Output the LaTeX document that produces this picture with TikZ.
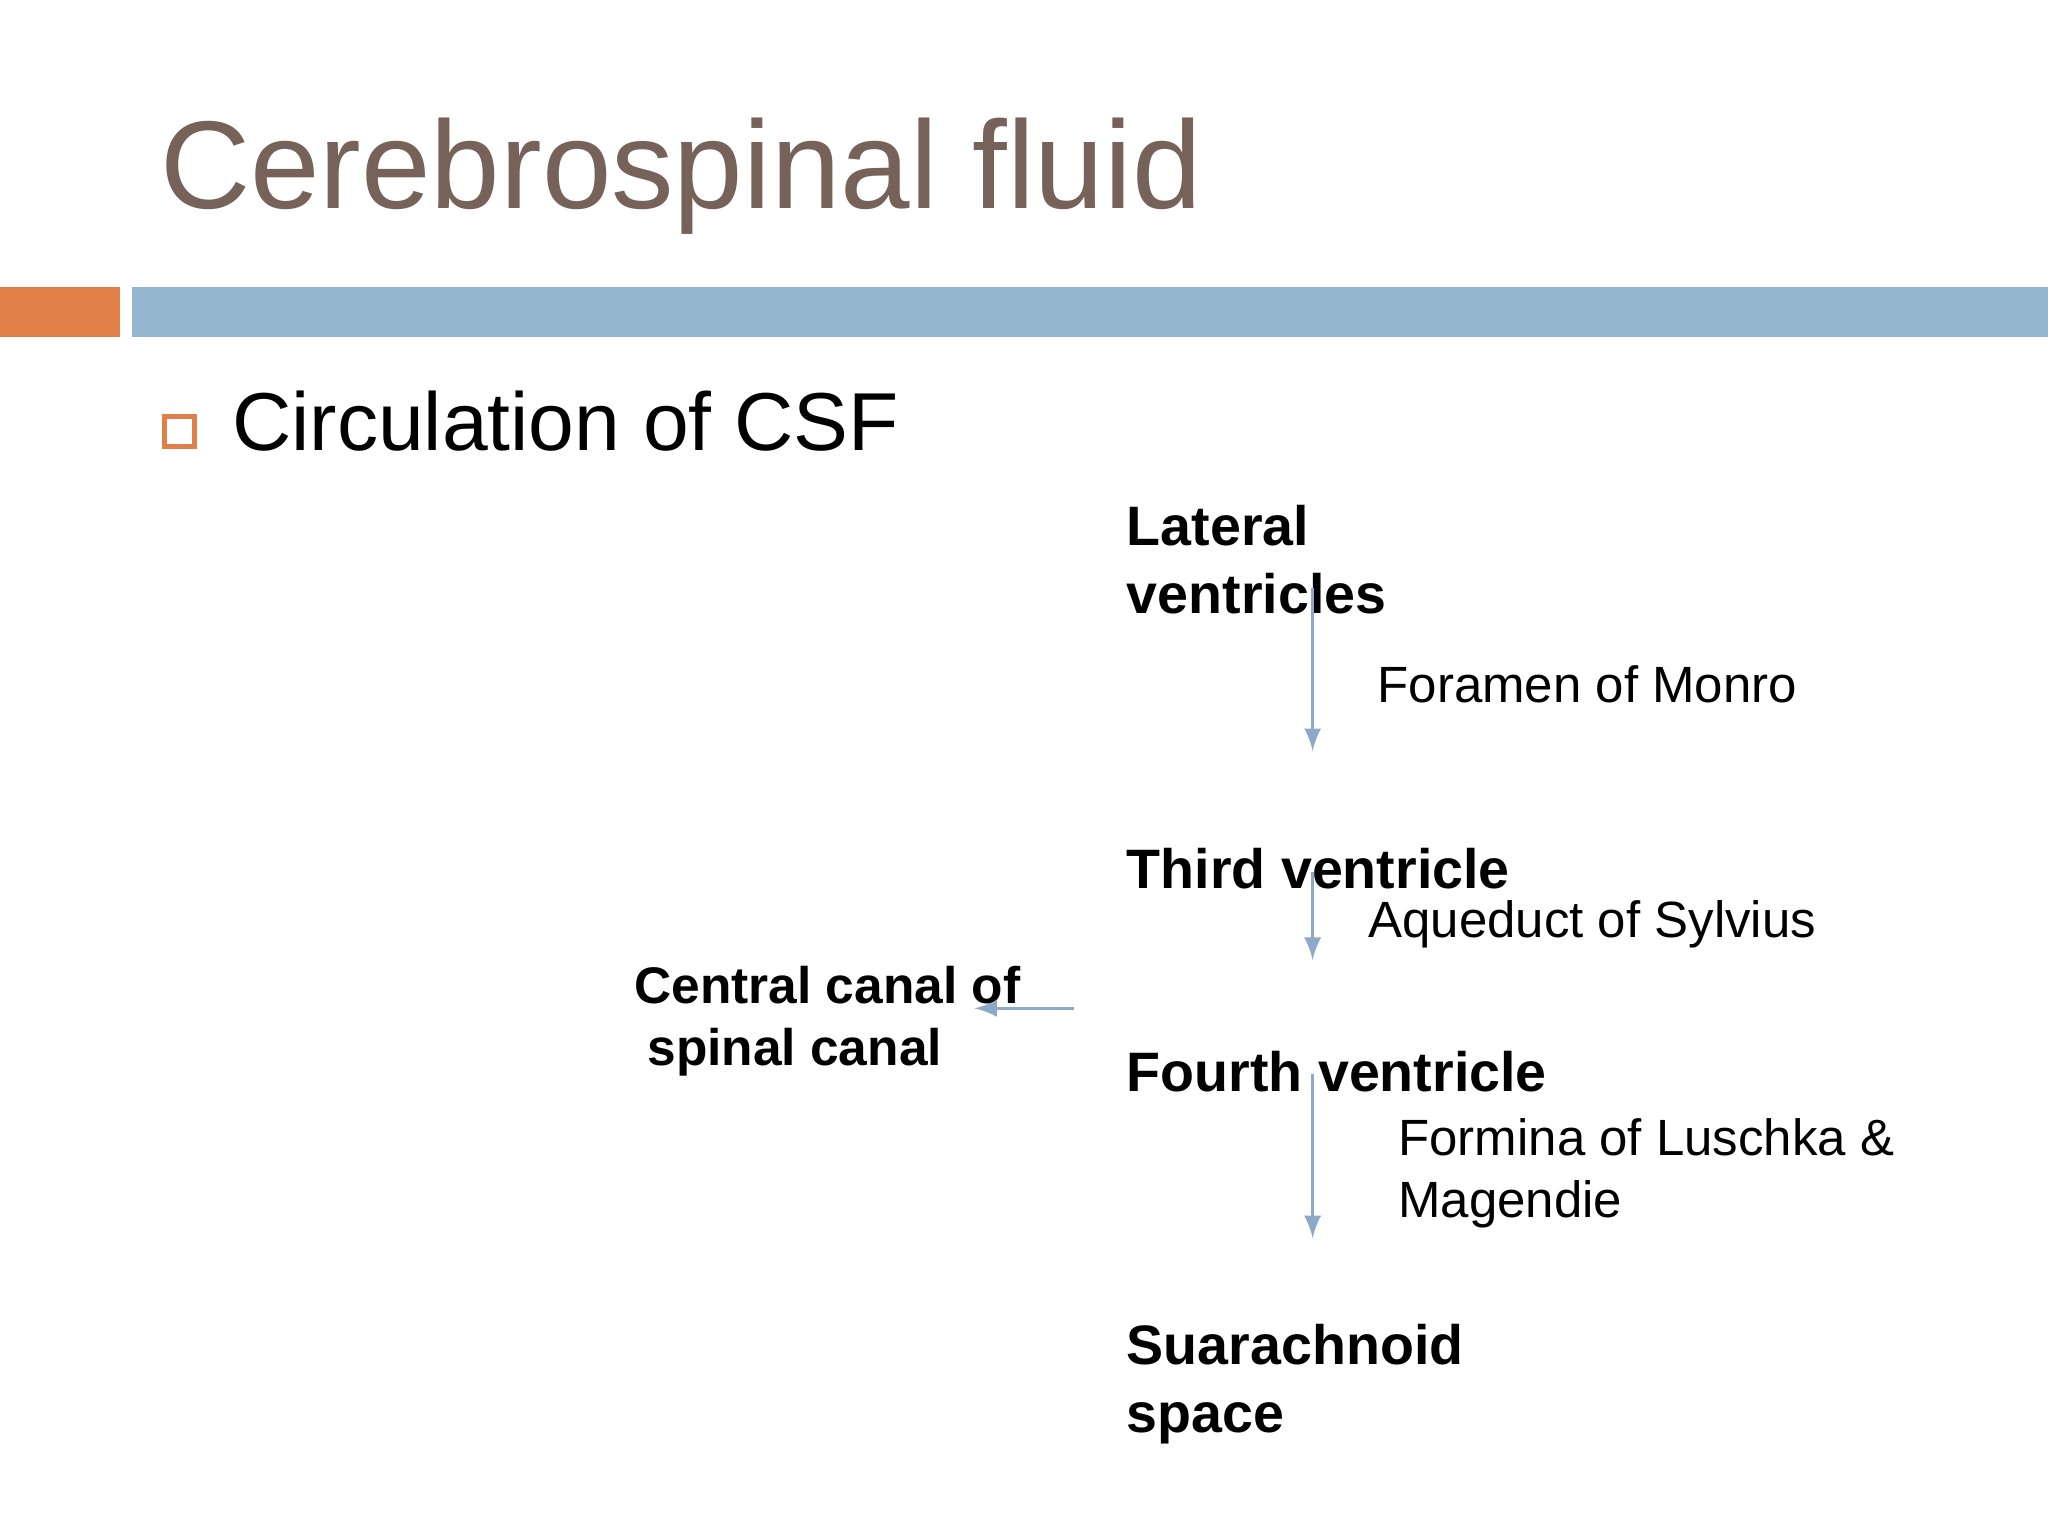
\documentclass[tikz,border=0pt]{standalone}
\usepackage{fontspec}
\setmainfont{Liberation Sans}
\definecolor{titlegray}{RGB}{118,98,88}
\definecolor{barblue}{RGB}{148,182,206}
\definecolor{barorange}{RGB}{224,128,72}
\definecolor{arrowblue}{RGB}{140,170,200}
\begin{document}
\begin{tikzpicture}[x=0.01cm,y=-0.01cm,
    stage/.style={font=\bfseries\fontsize{12.1}{14.8}\selectfont,anchor=base west,align=left,inner sep=0pt},
    via/.style={font=\fontsize{11.1}{13.4}\selectfont,anchor=base west,align=left,inner sep=0pt},
    flow/.style={draw=arrowblue,line width=0.7pt,-latex}]
    \useasboundingbox[fill=white] (0,0) rectangle (1568,1176);
    % title and bars
    \node[anchor=base west,inner sep=0pt,text=titlegray,font=\fontsize{27.2}{30}\selectfont] (title) at (122,160) {Cerebrospinal fluid};
    \fill[barorange] (0,220) rectangle (92,258);
    \fill[barblue] (101,220) rectangle (1568,258);
    \draw[barorange,line width=1.2pt] (126,319) rectangle (149,342);
    \node[anchor=base west,inner sep=0pt,font=\fontsize{17.9}{22}\selectfont] (circ) at (177,345) {Circulation of CSF};
    % stages
    \node[stage] (lat) at (862,470) {Lateral\\ventricles};
    \node[stage] (third) at (862,680) {Third ventricle};
    \node[stage] (fourth) at (862,836) {Fourth ventricle};
    \node[stage] (sub) at (862,1097) {Suarachnoid\\space};
    \node[stage,font=\bfseries\fontsize{11.2}{13.6}\selectfont] (canal) at (485,816) {Central canal of\\\hspace{0.1cm}spinal canal};
    \node[via] (monro) at (1054,538) {Foramen of Monro};
    \node[via] (sylv) at (1047,718) {Aqueduct of Sylvius};
    \node[via] (lusch) at (1070,932) {Formina of Luschka \&\\Magendie};
    % connectors
    \coordinate (a1) at (1005,450); \coordinate (b1) at (1005,575);
    \coordinate (a2) at (1005,668); \coordinate (b2) at (1005,735);
    \coordinate (a3) at (1005,822); \coordinate (b3) at (1005,948);
    \coordinate (a4) at (822,772); \coordinate (b4) at (746,772);
    \draw[flow] (a1) -- (b1);
    \draw[flow] (a2) -- (b2);
    \draw[flow] (a3) -- (b3);
    \draw[flow] (a4) -- (b4);
\end{tikzpicture}
\end{document}
